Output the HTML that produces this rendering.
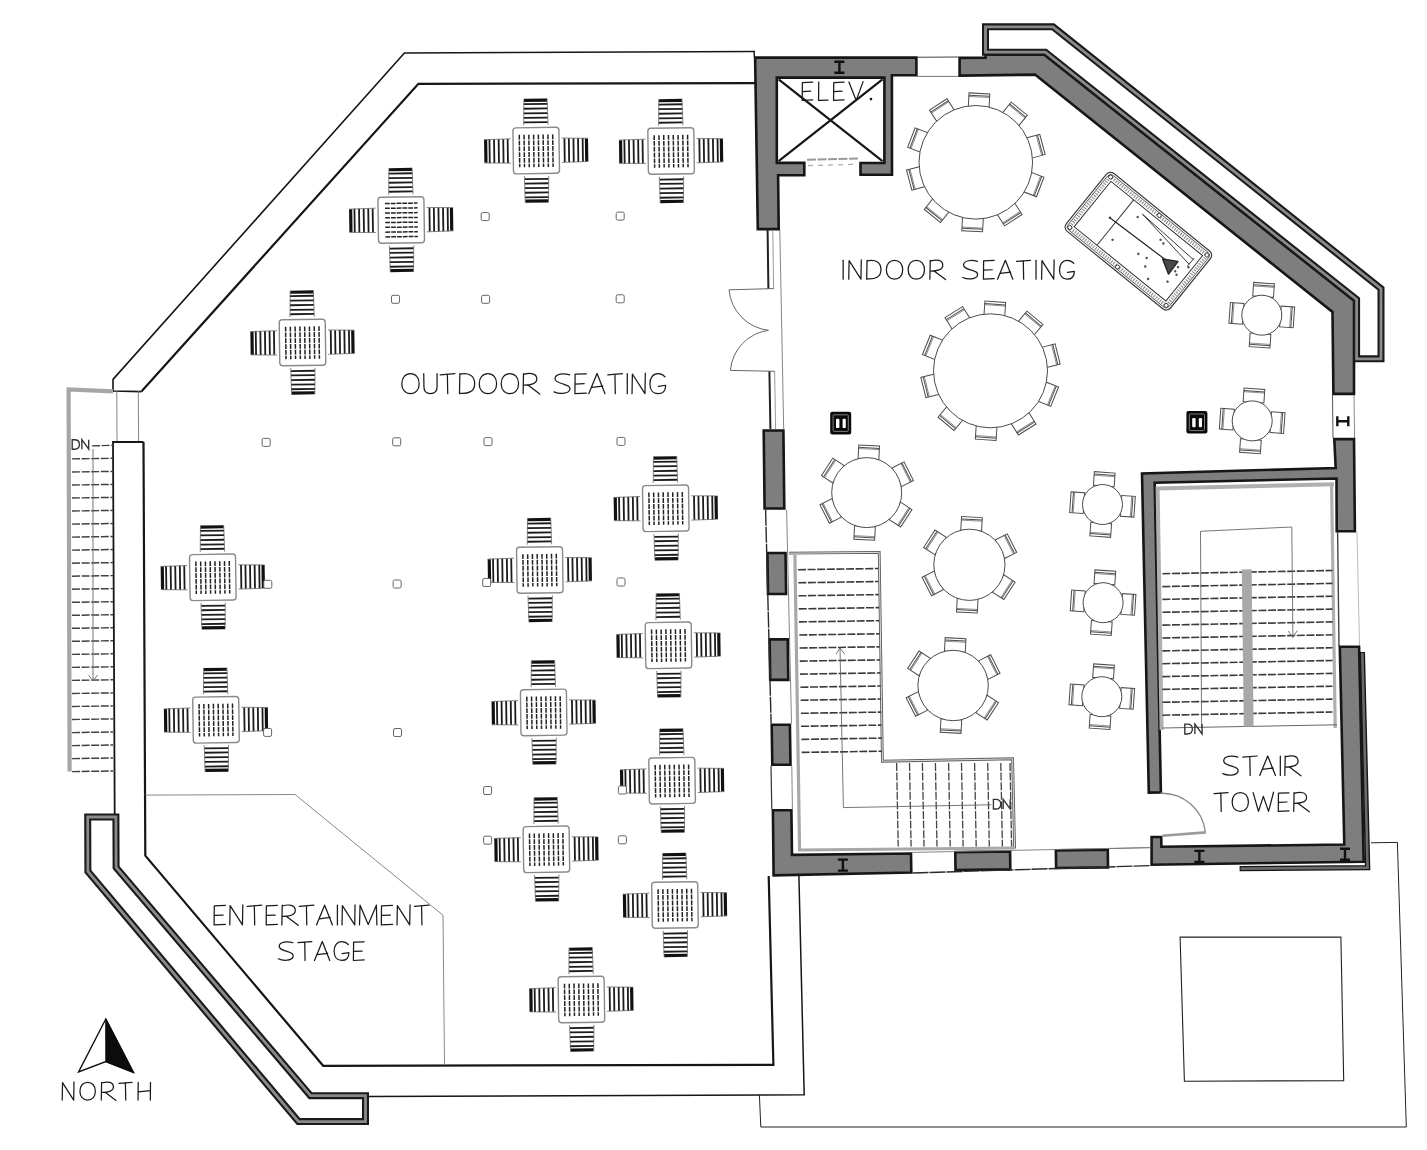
<!DOCTYPE html>
<html><head><meta charset="utf-8"><title>Floor plan</title>
<style>html,body{margin:0;padding:0;background:#fff;}svg{display:block;font-family:"Liberation Sans",sans-serif;}</style></head>
<body><svg width="1427" height="1150" viewBox="0 0 1427 1150">
<rect width="1427" height="1150" fill="#fff"/>
<defs><g id="sc"><rect x="-11.5" y="-52" width="23" height="3.2" fill="#111"/><line x1="-11.9" y1="-46.6" x2="11.9" y2="-46.6" stroke="#1c1c1c" stroke-width="1.8"/><line x1="-11.9" y1="-42.0" x2="11.9" y2="-42.0" stroke="#1c1c1c" stroke-width="1.8"/><line x1="-11.9" y1="-37.4" x2="11.9" y2="-37.4" stroke="#1c1c1c" stroke-width="1.8"/><line x1="-11.9" y1="-32.8" x2="11.9" y2="-32.8" stroke="#1c1c1c" stroke-width="1.8"/><line x1="-11.9" y1="-28.4" x2="11.9" y2="-28.4" stroke="#1c1c1c" stroke-width="1.8"/><path d="M-11.6,-52 L-12.2,-25.5 M11.6,-52 L12.2,-25.5" stroke="#555" stroke-width="0.7" fill="none"/></g><g id="tv"><use href="#sc" transform="rotate(0)"/><use href="#sc" transform="rotate(90)"/><use href="#sc" transform="rotate(180)"/><use href="#sc" transform="rotate(270)"/><rect x="-23" y="-23" width="46" height="46" rx="3" fill="#fff" stroke="#8a8a8a" stroke-width="1.4"/><line x1="-16.70" y1="-16" x2="-16.70" y2="16.5" stroke="#222" stroke-width="1.5" stroke-dasharray="4.8 1.0"/><line x1="-11.93" y1="-16" x2="-11.93" y2="16.5" stroke="#222" stroke-width="1.5" stroke-dasharray="4.8 1.0"/><line x1="-7.16" y1="-16" x2="-7.16" y2="16.5" stroke="#222" stroke-width="1.5" stroke-dasharray="4.8 1.0"/><line x1="-2.39" y1="-16" x2="-2.39" y2="16.5" stroke="#222" stroke-width="1.5" stroke-dasharray="4.8 1.0"/><line x1="2.38" y1="-16" x2="2.38" y2="16.5" stroke="#222" stroke-width="1.5" stroke-dasharray="4.8 1.0"/><line x1="7.15" y1="-16" x2="7.15" y2="16.5" stroke="#222" stroke-width="1.5" stroke-dasharray="4.8 1.0"/><line x1="11.92" y1="-16" x2="11.92" y2="16.5" stroke="#222" stroke-width="1.5" stroke-dasharray="4.8 1.0"/><line x1="16.69" y1="-16" x2="16.69" y2="16.5" stroke="#222" stroke-width="1.5" stroke-dasharray="4.8 1.0"/></g><g id="th"><use href="#sc" transform="rotate(0)"/><use href="#sc" transform="rotate(90)"/><use href="#sc" transform="rotate(180)"/><use href="#sc" transform="rotate(270)"/><rect x="-23" y="-23" width="46" height="46" rx="3" fill="#fff" stroke="#8a8a8a" stroke-width="1.4"/><line y1="-16.70" x1="-16" y2="-16.70" x2="16.5" stroke="#222" stroke-width="1.5" stroke-dasharray="4.8 1.0"/><line y1="-11.93" x1="-16" y2="-11.93" x2="16.5" stroke="#222" stroke-width="1.5" stroke-dasharray="4.8 1.0"/><line y1="-7.16" x1="-16" y2="-7.16" x2="16.5" stroke="#222" stroke-width="1.5" stroke-dasharray="4.8 1.0"/><line y1="-2.39" x1="-16" y2="-2.39" x2="16.5" stroke="#222" stroke-width="1.5" stroke-dasharray="4.8 1.0"/><line y1="2.38" x1="-16" y2="2.38" x2="16.5" stroke="#222" stroke-width="1.5" stroke-dasharray="4.8 1.0"/><line y1="7.15" x1="-16" y2="7.15" x2="16.5" stroke="#222" stroke-width="1.5" stroke-dasharray="4.8 1.0"/><line y1="11.92" x1="-16" y2="11.92" x2="16.5" stroke="#222" stroke-width="1.5" stroke-dasharray="4.8 1.0"/><line y1="16.69" x1="-16" y2="16.69" x2="16.5" stroke="#222" stroke-width="1.5" stroke-dasharray="4.8 1.0"/></g><rect id="post" x="-4" y="-4" width="8" height="8" rx="1.5" fill="#fff" stroke="#666" stroke-width="1"/><path id="ib" d="M-5,-5.5 H5 M-5,5.5 H5 M0,-5.5 V5.5" stroke="#111" stroke-width="2.4" fill="none"/><g id="col"><rect x="-10.5" y="-11.3" width="21" height="22.6" rx="2" fill="#0a0a0a"/><rect x="-7.6" y="-8.3" width="15.2" height="16.6" rx="1" fill="none" stroke="#8a8a8a" stroke-width="0.9"/><rect x="-4.7" y="-4.3" width="3.4" height="9.3" rx="1.2" fill="#fff"/><rect x="1.9" y="-4.3" width="3.2" height="9.3" rx="1.2" fill="#fff"/></g></defs>
<path d="M755.0,51.5 L404.4,53.0 L113.0,379.4 L113.0,391.0 L141.4,391.6" fill="none" stroke="#161616" stroke-width="1.6" stroke-linejoin="miter"/>
<path d="M141.4,391.6 L418.4,83.8 L755.0,83.1" fill="none" stroke="#161616" stroke-width="2.2"/>
<line x1="754.0" y1="51.5" x2="754.5" y2="57.0" stroke="#161616" stroke-width="1.4"/>
<line x1="116.8" y1="391.0" x2="117.0" y2="442.0" stroke="#777" stroke-width="0.9"/>
<line x1="138.3" y1="391.0" x2="138.6" y2="442.0" stroke="#777" stroke-width="0.9"/>
<path d="M114.7,815.0 L113.0,442.0 L143.5,442.0" fill="none" stroke="#161616" stroke-width="1.8"/>
<path d="M143.5,442.0 L145.3,855.6 L323.2,1065.8 L773.4,1064.8 L768.7,876.0" fill="none" stroke="#161616" stroke-width="2.2"/>
<path d="M368.3,1096.5 L804.2,1094.8 L798.9,876.0" fill="none" stroke="#161616" stroke-width="1.5"/>
<path d="M145.3,795.1 L295.0,794.5 L443.0,915.2 L444.5,1065.0" fill="none" stroke="#888" stroke-width="1"/>
<path d="M759.4,1095.0 L760.8,1127.0 L1406.3,1127.0 L1397.4,842.4 L1371.0,842.8" fill="none" stroke="#222" stroke-width="1"/>
<path d="M1180.1,937.1 L1340.9,937.1 L1343.7,1080.6 L1184.4,1081.2 Z" fill="none" stroke="#222" stroke-width="1.1"/>
<path d="M113.0,391.4 L68.6,389.4 L69.6,771.5" fill="none" stroke="#a6a6a6" stroke-width="4.2"/>
<line x1="92.0" y1="445.9" x2="113.0" y2="445.3" stroke="#404040" stroke-width="1.45" stroke-dasharray="8 1.6"/>
<line x1="72.0" y1="458.9" x2="113.0" y2="458.3" stroke="#404040" stroke-width="1.45" stroke-dasharray="8 1.6"/>
<line x1="72.0" y1="472.0" x2="113.0" y2="471.4" stroke="#404040" stroke-width="1.45" stroke-dasharray="8 1.6"/>
<line x1="72.0" y1="485.0" x2="113.0" y2="484.4" stroke="#404040" stroke-width="1.45" stroke-dasharray="8 1.6"/>
<line x1="72.0" y1="498.0" x2="113.0" y2="497.4" stroke="#404040" stroke-width="1.45" stroke-dasharray="8 1.6"/>
<line x1="72.0" y1="511.0" x2="113.0" y2="510.4" stroke="#404040" stroke-width="1.45" stroke-dasharray="8 1.6"/>
<line x1="72.0" y1="524.1" x2="113.0" y2="523.5" stroke="#404040" stroke-width="1.45" stroke-dasharray="8 1.6"/>
<line x1="72.0" y1="537.1" x2="113.0" y2="536.5" stroke="#404040" stroke-width="1.45" stroke-dasharray="8 1.6"/>
<line x1="72.0" y1="550.1" x2="113.0" y2="549.5" stroke="#404040" stroke-width="1.45" stroke-dasharray="8 1.6"/>
<line x1="72.0" y1="563.2" x2="113.0" y2="562.6" stroke="#404040" stroke-width="1.45" stroke-dasharray="8 1.6"/>
<line x1="72.0" y1="576.2" x2="113.0" y2="575.6" stroke="#404040" stroke-width="1.45" stroke-dasharray="8 1.6"/>
<line x1="72.0" y1="589.2" x2="113.0" y2="588.6" stroke="#404040" stroke-width="1.45" stroke-dasharray="8 1.6"/>
<line x1="72.0" y1="602.3" x2="113.0" y2="601.7" stroke="#404040" stroke-width="1.45" stroke-dasharray="8 1.6"/>
<line x1="72.0" y1="615.3" x2="113.0" y2="614.7" stroke="#404040" stroke-width="1.45" stroke-dasharray="8 1.6"/>
<line x1="72.0" y1="628.3" x2="113.0" y2="627.7" stroke="#404040" stroke-width="1.45" stroke-dasharray="8 1.6"/>
<line x1="72.0" y1="641.3" x2="113.0" y2="640.7" stroke="#404040" stroke-width="1.45" stroke-dasharray="8 1.6"/>
<line x1="72.0" y1="654.4" x2="113.0" y2="653.8" stroke="#404040" stroke-width="1.45" stroke-dasharray="8 1.6"/>
<line x1="72.0" y1="667.4" x2="113.0" y2="666.8" stroke="#404040" stroke-width="1.45" stroke-dasharray="8 1.6"/>
<line x1="72.0" y1="680.4" x2="113.0" y2="679.8" stroke="#404040" stroke-width="1.45" stroke-dasharray="8 1.6"/>
<line x1="72.0" y1="693.5" x2="113.0" y2="692.9" stroke="#404040" stroke-width="1.45" stroke-dasharray="8 1.6"/>
<line x1="72.0" y1="706.5" x2="113.0" y2="705.9" stroke="#404040" stroke-width="1.45" stroke-dasharray="8 1.6"/>
<line x1="72.0" y1="719.5" x2="113.0" y2="718.9" stroke="#404040" stroke-width="1.45" stroke-dasharray="8 1.6"/>
<line x1="72.0" y1="732.6" x2="113.0" y2="732.0" stroke="#404040" stroke-width="1.45" stroke-dasharray="8 1.6"/>
<line x1="72.0" y1="745.6" x2="113.0" y2="745.0" stroke="#404040" stroke-width="1.45" stroke-dasharray="8 1.6"/>
<line x1="72.0" y1="758.6" x2="113.0" y2="758.0" stroke="#404040" stroke-width="1.45" stroke-dasharray="8 1.6"/>
<line x1="72.0" y1="771.6" x2="113.0" y2="771.0" stroke="#404040" stroke-width="1.45" stroke-dasharray="8 1.6"/>
<line x1="93.0" y1="449.0" x2="93.0" y2="680.0" stroke="#666" stroke-width="0.9"/>
<path d="M88.5,675.0 L93.0,681.0 L97.5,675.0" fill="none" stroke="#666" stroke-width="0.9"/>
<path d="M87.7,817.0 L115.9,817.0 L116.1,867.5 L310.5,1095.7 L365.5,1095.7 L365.5,1121.6 L298.5,1121.6 L87.9,871.5 Z" fill="none" stroke="#1a1a1a" stroke-width="7.0" stroke-linejoin="miter"/>
<path d="M87.7,817.0 L115.9,817.0 L116.1,867.5 L310.5,1095.7 L365.5,1095.7 L365.5,1121.6 L298.5,1121.6 L87.9,871.5 Z" fill="none" stroke="#8a8a8a" stroke-width="2.8" stroke-linejoin="miter"/>
<path d="M755.1,57.6 L916.4,57.6 L916.4,75.3 L891.9,75.3 L892.0,174.8 L860.5,174.8 L860.5,163.0 L884.4,163.0 L884.4,77.6 L776.8,77.6 L776.8,162.9 L804.3,162.9 L804.3,175.2 L778.1,175.2 L778.7,229.1 L757.8,229.1 Z" fill="#7e7e7e" stroke="#161616" stroke-width="2.6" stroke-linejoin="miter"/>
<line x1="917.0" y1="57.3" x2="958.4" y2="57.0" stroke="#444" stroke-width="1.1"/>
<line x1="917.0" y1="76.4" x2="958.4" y2="76.4" stroke="#777" stroke-width="1"/>
<path d="M959.6,57.9 L985.5,57.8 L985.5,54.8 L1044.4,54.8 L1354.0,300.8 L1354.0,393.9 L1333.4,393.9 L1332.5,312.0 L1035.0,74.6 L959.6,75.6 Z" fill="#7e7e7e" stroke="#161616" stroke-width="2.6" stroke-linejoin="miter"/>
<path d="M985.5,52.2 L985.5,26.8 L1053.0,26.8 L1381.0,288.6 L1381.0,358.8 L1356.6,358.8 L1356.6,299.5 L1045.3,52.2 Z" fill="none" stroke="#1a1a1a" stroke-width="7.0" stroke-linejoin="miter"/>
<path d="M985.5,52.2 L985.5,26.8 L1053.0,26.8 L1381.0,288.6 L1381.0,358.8 L1356.6,358.8 L1356.6,299.5 L1045.3,52.2 Z" fill="none" stroke="#8a8a8a" stroke-width="2.8" stroke-linejoin="miter"/>
<line x1="1332.5" y1="395.0" x2="1333.0" y2="438.0" stroke="#555" stroke-width="1"/>
<line x1="1354.0" y1="395.0" x2="1354.6" y2="438.0" stroke="#888" stroke-width="1"/>
<use href="#ib" transform="translate(1342.8,421.3) rotate(90)"/>
<path d="M1334.3,439.1 L1354.0,439.1 L1354.9,531.2 L1336.7,531.2 L1336.5,478.5 L1154.7,482.8 L1160.9,792.4 L1148.8,792.6 L1142.0,473.4 L1335.7,468.0 Z" fill="#7e7e7e" stroke="#161616" stroke-width="2.6" stroke-linejoin="miter"/>
<line x1="1337.6" y1="532.0" x2="1339.0" y2="646.0" stroke="#444" stroke-width="1.4"/>
<line x1="1357.0" y1="532.0" x2="1359.5" y2="646.0" stroke="#bbb" stroke-width="1"/>
<path d="M1362.3,652.0 L1367.6,867.6 L1239.6,868.6" fill="none" stroke="#161616" stroke-width="5.4" stroke-linejoin="miter"/>
<path d="M1362.3,653.0 L1367.6,867.6 L1240.6,868.6" fill="none" stroke="#6a6a6a" stroke-width="2.6" stroke-linejoin="miter"/>
<path d="M1339.8,646.8 L1359.1,646.8 L1363.7,861.7 L1151.6,864.8 L1151.6,837.0 L1161.2,837.0 L1161.4,846.8 L1344.3,844.5 Z" fill="#7e7e7e" stroke="#161616" stroke-width="2.6" stroke-linejoin="miter"/>
<use href="#ib" transform="translate(1199.4,856.4)"/>
<use href="#ib" transform="translate(1345,854.2)"/>
<use href="#ib" transform="translate(839.4,67.3)"/>
<path d="M763.7,430.5 L783.4,430.5 L784.3,508.5 L764.6,508.5 Z" fill="#7e7e7e" stroke="#161616" stroke-width="2.6" stroke-linejoin="miter"/>
<path d="M767.4,553.0 L785.5,553.0 L786.1,594.0 L768.0,594.0 Z" fill="#7e7e7e" stroke="#161616" stroke-width="2.6" stroke-linejoin="miter"/>
<path d="M769.6,639.4 L787.7,639.4 L788.3,679.9 L770.2,679.9 Z" fill="#7e7e7e" stroke="#161616" stroke-width="2.6" stroke-linejoin="miter"/>
<path d="M771.7,724.7 L789.9,724.7 L790.5,764.7 L772.3,764.7 Z" fill="#7e7e7e" stroke="#161616" stroke-width="2.6" stroke-linejoin="miter"/>
<path d="M772.9,810.3 L791.4,810.3 L792.0,854.9 L911.0,853.5 L911.3,872.5 L773.6,875.3 Z" fill="#7e7e7e" stroke="#161616" stroke-width="2.6" stroke-linejoin="miter"/>
<use href="#ib" transform="translate(842.9,865.1)"/>
<path d="M955.3,852.1 L1010.1,851.5 L1010.3,869.4 L955.5,870.0 Z" fill="#7e7e7e" stroke="#161616" stroke-width="2.6" stroke-linejoin="miter"/>
<path d="M1055.9,850.4 L1107.8,849.8 L1108.0,867.4 L1056.1,868.0 Z" fill="#7e7e7e" stroke="#161616" stroke-width="2.6" stroke-linejoin="miter"/>
<path d="M765.6,509.8 L771.1,723.5" fill="none" stroke="#2a2a2a" stroke-width="1.4" stroke-dasharray="16 1"/>
<path d="M786.6,509.8 L791.5,723.5" fill="none" stroke="#777" stroke-width="0.9"/>
<path d="M771.0,765.9 L771.8,809.1" fill="none" stroke="#333" stroke-width="1.2"/>
<path d="M791.8,765.9 L792.4,809.1" fill="none" stroke="#777" stroke-width="0.9"/>
<path d="M912.6,873.0 L1150.4,865.6" fill="none" stroke="#2a2a2a" stroke-width="1.4" stroke-dasharray="16 1"/>
<path d="M912.2,852.4 L1150.4,847.6" fill="none" stroke="#777" stroke-width="0.9"/>
<line x1="767.6" y1="230.0" x2="768.4" y2="289.0" stroke="#222" stroke-width="2"/>
<line x1="772.8" y1="230.0" x2="773.6" y2="289.0" stroke="#999" stroke-width="1"/>
<path d="M779.8,230.0 L783.7,429.0" fill="none" stroke="#777" stroke-width="0.9"/>
<line x1="769.4" y1="371.0" x2="770.4" y2="429.0" stroke="#222" stroke-width="2"/>
<line x1="774.6" y1="371.0" x2="775.6" y2="429.0" stroke="#999" stroke-width="1"/>
<path d="M773.5,288.6 L729,289.8 A44.5,44.5 0 0 0 768.5,330.3 A44,44 0 0 0 730.4,370.4 L774.6,371.3" fill="none" stroke="#666" stroke-width="1"/>
<line x1="778.6" y1="79.4" x2="882.5" y2="161.1" stroke="#161616" stroke-width="2.2"/>
<line x1="882.5" y1="79.4" x2="778.6" y2="161.1" stroke="#161616" stroke-width="2.2"/>
<line x1="807.0" y1="159.8" x2="858.5" y2="158.4" stroke="#9a9a9a" stroke-width="2" stroke-dasharray="9 1.5"/>
<line x1="808.0" y1="165.6" x2="858.0" y2="164.2" stroke="#aaa" stroke-width="1.2" stroke-dasharray="5 5"/>
<path d="M788.9,553.2 L879.2,552.4 L882.4,761.2 L1012.6,758.8 L1014.6,848.5" fill="none" stroke="#5c5c5c" stroke-width="2.8"/>
<path d="M788.9,553.2 L879.2,552.4 L882.4,761.2 L1012.6,758.8 L1014.6,848.5" fill="none" stroke="#fff" stroke-width="0.8"/>
<path d="M794.9,555.0 L799.6,850.0 L1014.6,848.0" fill="none" stroke="#a8a8a8" stroke-width="3.2"/>
<line x1="798.0" y1="569.7" x2="878.3" y2="568.5" stroke="#3a3a3a" stroke-width="1.6" stroke-dasharray="8 1.6"/>
<line x1="798.3" y1="582.8" x2="878.6" y2="581.5" stroke="#3a3a3a" stroke-width="1.6" stroke-dasharray="8 1.6"/>
<line x1="798.5" y1="595.8" x2="878.8" y2="594.6" stroke="#3a3a3a" stroke-width="1.6" stroke-dasharray="8 1.6"/>
<line x1="798.8" y1="608.9" x2="879.1" y2="607.6" stroke="#3a3a3a" stroke-width="1.6" stroke-dasharray="8 1.6"/>
<line x1="799.0" y1="621.9" x2="879.3" y2="620.7" stroke="#3a3a3a" stroke-width="1.6" stroke-dasharray="8 1.6"/>
<line x1="799.3" y1="635.0" x2="879.6" y2="633.8" stroke="#3a3a3a" stroke-width="1.6" stroke-dasharray="8 1.6"/>
<line x1="799.6" y1="648.0" x2="879.9" y2="646.8" stroke="#3a3a3a" stroke-width="1.6" stroke-dasharray="8 1.6"/>
<line x1="799.8" y1="661.1" x2="880.1" y2="659.9" stroke="#3a3a3a" stroke-width="1.6" stroke-dasharray="8 1.6"/>
<line x1="800.1" y1="674.1" x2="880.4" y2="672.9" stroke="#3a3a3a" stroke-width="1.6" stroke-dasharray="8 1.6"/>
<line x1="800.4" y1="687.2" x2="880.7" y2="686.0" stroke="#3a3a3a" stroke-width="1.6" stroke-dasharray="8 1.6"/>
<line x1="800.6" y1="700.2" x2="880.9" y2="699.0" stroke="#3a3a3a" stroke-width="1.6" stroke-dasharray="8 1.6"/>
<line x1="800.9" y1="713.3" x2="881.2" y2="712.1" stroke="#3a3a3a" stroke-width="1.6" stroke-dasharray="8 1.6"/>
<line x1="801.1" y1="726.3" x2="881.4" y2="725.1" stroke="#3a3a3a" stroke-width="1.6" stroke-dasharray="8 1.6"/>
<line x1="801.4" y1="739.4" x2="881.7" y2="738.1" stroke="#3a3a3a" stroke-width="1.6" stroke-dasharray="8 1.6"/>
<line x1="801.7" y1="752.4" x2="882.0" y2="751.2" stroke="#3a3a3a" stroke-width="1.6" stroke-dasharray="8 1.6"/>
<line x1="896.6" y1="763.0" x2="898.2" y2="846.4" stroke="#444" stroke-width="1.3" stroke-dasharray="8 1.6"/>
<line x1="909.5" y1="763.0" x2="911.1" y2="846.4" stroke="#444" stroke-width="1.3" stroke-dasharray="8 1.6"/>
<line x1="922.4" y1="763.0" x2="924.0" y2="846.4" stroke="#444" stroke-width="1.3" stroke-dasharray="8 1.6"/>
<line x1="935.4" y1="763.0" x2="937.0" y2="846.4" stroke="#444" stroke-width="1.3" stroke-dasharray="8 1.6"/>
<line x1="948.6" y1="763.0" x2="950.2" y2="846.4" stroke="#444" stroke-width="1.3" stroke-dasharray="8 1.6"/>
<line x1="961.5" y1="763.0" x2="963.1" y2="846.4" stroke="#444" stroke-width="1.3" stroke-dasharray="8 1.6"/>
<line x1="974.6" y1="763.0" x2="976.2" y2="846.4" stroke="#444" stroke-width="1.3" stroke-dasharray="8 1.6"/>
<line x1="987.7" y1="763.0" x2="989.3" y2="846.4" stroke="#444" stroke-width="1.3" stroke-dasharray="8 1.6"/>
<line x1="1000.8" y1="763.0" x2="1002.4" y2="846.4" stroke="#444" stroke-width="1.3" stroke-dasharray="8 1.6"/>
<line x1="1010.0" y1="763.0" x2="1011.6" y2="846.4" stroke="#444" stroke-width="1.3" stroke-dasharray="8 1.6"/>
<path d="M840.0,648.5 L843.4,807.6 L991.4,804.8" fill="none" stroke="#666" stroke-width="0.9"/>
<path d="M836.0,654.0 L840.0,648.0 L844.5,654.0" fill="none" stroke="#666" stroke-width="0.9"/>
<path d="M1161.6,730.0 L1157.6,488.4 L1334.0,484.2" fill="none" stroke="#b0b0b0" stroke-width="4"/>
<line x1="1331.6" y1="486.0" x2="1335.2" y2="728.0" stroke="#b0b0b0" stroke-width="3.2"/>
<line x1="1162.4" y1="573.7" x2="1332.5" y2="570.5" stroke="#3a3a3a" stroke-width="1.6" stroke-dasharray="8 1.6"/>
<line x1="1162.4" y1="586.6" x2="1332.5" y2="583.4" stroke="#3a3a3a" stroke-width="1.6" stroke-dasharray="8 1.6"/>
<line x1="1162.4" y1="599.4" x2="1332.5" y2="596.2" stroke="#3a3a3a" stroke-width="1.6" stroke-dasharray="8 1.6"/>
<line x1="1162.4" y1="612.3" x2="1332.5" y2="609.1" stroke="#3a3a3a" stroke-width="1.6" stroke-dasharray="8 1.6"/>
<line x1="1162.4" y1="625.1" x2="1332.5" y2="621.9" stroke="#3a3a3a" stroke-width="1.6" stroke-dasharray="8 1.6"/>
<line x1="1162.4" y1="638.0" x2="1332.5" y2="634.8" stroke="#3a3a3a" stroke-width="1.6" stroke-dasharray="8 1.6"/>
<line x1="1162.4" y1="650.9" x2="1332.5" y2="647.7" stroke="#3a3a3a" stroke-width="1.6" stroke-dasharray="8 1.6"/>
<line x1="1162.4" y1="663.7" x2="1332.5" y2="660.5" stroke="#3a3a3a" stroke-width="1.6" stroke-dasharray="8 1.6"/>
<line x1="1162.4" y1="676.6" x2="1332.5" y2="673.4" stroke="#3a3a3a" stroke-width="1.6" stroke-dasharray="8 1.6"/>
<line x1="1162.4" y1="689.4" x2="1332.5" y2="686.2" stroke="#3a3a3a" stroke-width="1.6" stroke-dasharray="8 1.6"/>
<line x1="1162.4" y1="702.3" x2="1332.5" y2="699.1" stroke="#3a3a3a" stroke-width="1.6" stroke-dasharray="8 1.6"/>
<line x1="1162.4" y1="715.2" x2="1332.5" y2="712.0" stroke="#3a3a3a" stroke-width="1.6" stroke-dasharray="8 1.6"/>
<line x1="1162.4" y1="728.0" x2="1337.0" y2="724.8" stroke="#555" stroke-width="0.9"/>
<path d="M1241.8,569.4 L1251.6,569.2 L1253.6,726.6 L1243.8,726.8 Z" fill="#a8a8a8" stroke="none"/>
<path d="M1201.6,728.0 L1200.5,531.3 L1291.8,527.0 L1292.9,636.8" fill="none" stroke="#666" stroke-width="0.9"/>
<path d="M1288.3,631.0 L1292.9,637.5 L1297.3,630.6" fill="none" stroke="#666" stroke-width="0.9"/>
<path d="M1162.4,835.7 L1205.9,832.4" stroke="#9a9a9a" stroke-width="2.6" fill="none"/>
<path d="M1160.5,793.3 A43.5,43.5 0 0 1 1205.3,831.5" stroke="#8a8a8a" stroke-width="1.4" fill="none"/>
<line x1="1109.3" y1="848.6" x2="1150.4" y2="847.6" stroke="#777" stroke-width="0.9"/>
<use href="#tv" transform="translate(536.2,150.6) rotate(-0.8)"/>
<use href="#tv" transform="translate(671.1,151) rotate(-0.8)"/>
<use href="#th" transform="translate(401.2,220) rotate(-0.8)"/>
<use href="#tv" transform="translate(302.5,342.5) rotate(-0.8)"/>
<use href="#tv" transform="translate(665.8,508.3) rotate(-0.8)"/>
<use href="#tv" transform="translate(539.8,570) rotate(-0.8)"/>
<use href="#tv" transform="translate(212.8,577.3) rotate(-0.8)"/>
<use href="#tv" transform="translate(668.5,645.3) rotate(-0.8)"/>
<use href="#tv" transform="translate(543.7,712.4) rotate(-0.8)"/>
<use href="#tv" transform="translate(216,719.8) rotate(-0.8)"/>
<use href="#tv" transform="translate(672.1,780.7) rotate(-0.8)"/>
<use href="#tv" transform="translate(546.4,849.3) rotate(-0.8)"/>
<use href="#tv" transform="translate(675,905) rotate(-0.8)"/>
<use href="#tv" transform="translate(581.4,999.5) rotate(-0.8)"/>
<use href="#post" transform="translate(485.2,216.6)"/>
<use href="#post" transform="translate(620.2,216.1)"/>
<use href="#post" transform="translate(395.5,299.3)"/>
<use href="#post" transform="translate(485.6,299.3)"/>
<use href="#post" transform="translate(620.2,298.8)"/>
<use href="#post" transform="translate(266.2,442.4)"/>
<use href="#post" transform="translate(396.7,441.8)"/>
<use href="#post" transform="translate(488,441.6)"/>
<use href="#post" transform="translate(621,441.4)"/>
<use href="#post" transform="translate(267.8,584.3)"/>
<use href="#post" transform="translate(397.1,584)"/>
<use href="#post" transform="translate(486.7,582.5)"/>
<use href="#post" transform="translate(621,582)"/>
<use href="#post" transform="translate(267.6,732.4)"/>
<use href="#post" transform="translate(397.5,732.5)"/>
<use href="#post" transform="translate(487.6,790.5)"/>
<use href="#post" transform="translate(622.4,790)"/>
<use href="#post" transform="translate(487.6,840.2)"/>
<use href="#post" transform="translate(622.4,839.8)"/>
<g transform="translate(975.8,162.3)" fill="#fff" stroke="#4c4c4c" stroke-width="1"><g transform="rotate(3.0)"><rect x="-10.4" y="-69.0" width="20.8" height="13.6" /><line x1="-10.4" y1="-66.6" x2="10.4" y2="-66.6"/><line x1="-10.4" y1="-65.4" x2="10.4" y2="-65.4" stroke-width="0.6"/></g><g transform="rotate(39.0)"><rect x="-10.4" y="-69.0" width="20.8" height="13.6" /><line x1="-10.4" y1="-66.6" x2="10.4" y2="-66.6"/><line x1="-10.4" y1="-65.4" x2="10.4" y2="-65.4" stroke-width="0.6"/></g><g transform="rotate(75.0)"><rect x="-10.4" y="-69.0" width="20.8" height="13.6" /><line x1="-10.4" y1="-66.6" x2="10.4" y2="-66.6"/><line x1="-10.4" y1="-65.4" x2="10.4" y2="-65.4" stroke-width="0.6"/></g><g transform="rotate(111.0)"><rect x="-10.4" y="-69.0" width="20.8" height="13.6" /><line x1="-10.4" y1="-66.6" x2="10.4" y2="-66.6"/><line x1="-10.4" y1="-65.4" x2="10.4" y2="-65.4" stroke-width="0.6"/></g><g transform="rotate(147.0)"><rect x="-10.4" y="-69.0" width="20.8" height="13.6" /><line x1="-10.4" y1="-66.6" x2="10.4" y2="-66.6"/><line x1="-10.4" y1="-65.4" x2="10.4" y2="-65.4" stroke-width="0.6"/></g><g transform="rotate(183.0)"><rect x="-10.4" y="-69.0" width="20.8" height="13.6" /><line x1="-10.4" y1="-66.6" x2="10.4" y2="-66.6"/><line x1="-10.4" y1="-65.4" x2="10.4" y2="-65.4" stroke-width="0.6"/></g><g transform="rotate(219.0)"><rect x="-10.4" y="-69.0" width="20.8" height="13.6" /><line x1="-10.4" y1="-66.6" x2="10.4" y2="-66.6"/><line x1="-10.4" y1="-65.4" x2="10.4" y2="-65.4" stroke-width="0.6"/></g><g transform="rotate(255.0)"><rect x="-10.4" y="-69.0" width="20.8" height="13.6" /><line x1="-10.4" y1="-66.6" x2="10.4" y2="-66.6"/><line x1="-10.4" y1="-65.4" x2="10.4" y2="-65.4" stroke-width="0.6"/></g><g transform="rotate(291.0)"><rect x="-10.4" y="-69.0" width="20.8" height="13.6" /><line x1="-10.4" y1="-66.6" x2="10.4" y2="-66.6"/><line x1="-10.4" y1="-65.4" x2="10.4" y2="-65.4" stroke-width="0.6"/></g><g transform="rotate(327.0)"><rect x="-10.4" y="-69.0" width="20.8" height="13.6" /><line x1="-10.4" y1="-66.6" x2="10.4" y2="-66.6"/><line x1="-10.4" y1="-65.4" x2="10.4" y2="-65.4" stroke-width="0.6"/></g><circle r="56.8" stroke="#4a4a4a" stroke-width="1"/></g>
<g transform="translate(990.5,370.8)" fill="#fff" stroke="#4c4c4c" stroke-width="1"><g transform="rotate(4.0)"><rect x="-10.4" y="-69.2" width="20.8" height="13.6" /><line x1="-10.4" y1="-66.8" x2="10.4" y2="-66.8"/><line x1="-10.4" y1="-65.6" x2="10.4" y2="-65.6" stroke-width="0.6"/></g><g transform="rotate(40.0)"><rect x="-10.4" y="-69.2" width="20.8" height="13.6" /><line x1="-10.4" y1="-66.8" x2="10.4" y2="-66.8"/><line x1="-10.4" y1="-65.6" x2="10.4" y2="-65.6" stroke-width="0.6"/></g><g transform="rotate(76.0)"><rect x="-10.4" y="-69.2" width="20.8" height="13.6" /><line x1="-10.4" y1="-66.8" x2="10.4" y2="-66.8"/><line x1="-10.4" y1="-65.6" x2="10.4" y2="-65.6" stroke-width="0.6"/></g><g transform="rotate(112.0)"><rect x="-10.4" y="-69.2" width="20.8" height="13.6" /><line x1="-10.4" y1="-66.8" x2="10.4" y2="-66.8"/><line x1="-10.4" y1="-65.6" x2="10.4" y2="-65.6" stroke-width="0.6"/></g><g transform="rotate(148.0)"><rect x="-10.4" y="-69.2" width="20.8" height="13.6" /><line x1="-10.4" y1="-66.8" x2="10.4" y2="-66.8"/><line x1="-10.4" y1="-65.6" x2="10.4" y2="-65.6" stroke-width="0.6"/></g><g transform="rotate(184.0)"><rect x="-10.4" y="-69.2" width="20.8" height="13.6" /><line x1="-10.4" y1="-66.8" x2="10.4" y2="-66.8"/><line x1="-10.4" y1="-65.6" x2="10.4" y2="-65.6" stroke-width="0.6"/></g><g transform="rotate(220.0)"><rect x="-10.4" y="-69.2" width="20.8" height="13.6" /><line x1="-10.4" y1="-66.8" x2="10.4" y2="-66.8"/><line x1="-10.4" y1="-65.6" x2="10.4" y2="-65.6" stroke-width="0.6"/></g><g transform="rotate(256.0)"><rect x="-10.4" y="-69.2" width="20.8" height="13.6" /><line x1="-10.4" y1="-66.8" x2="10.4" y2="-66.8"/><line x1="-10.4" y1="-65.6" x2="10.4" y2="-65.6" stroke-width="0.6"/></g><g transform="rotate(292.0)"><rect x="-10.4" y="-69.2" width="20.8" height="13.6" /><line x1="-10.4" y1="-66.8" x2="10.4" y2="-66.8"/><line x1="-10.4" y1="-65.6" x2="10.4" y2="-65.6" stroke-width="0.6"/></g><g transform="rotate(328.0)"><rect x="-10.4" y="-69.2" width="20.8" height="13.6" /><line x1="-10.4" y1="-66.8" x2="10.4" y2="-66.8"/><line x1="-10.4" y1="-65.6" x2="10.4" y2="-65.6" stroke-width="0.6"/></g><circle r="57" stroke="#4a4a4a" stroke-width="1"/></g>
<g transform="translate(866.7,492.6)" fill="#fff" stroke="#4c4c4c" stroke-width="1"><g transform="rotate(3.0)"><rect x="-10.4" y="-47.2" width="20.8" height="13.6" /><line x1="-10.4" y1="-44.8" x2="10.4" y2="-44.8"/><line x1="-10.4" y1="-43.6" x2="10.4" y2="-43.6" stroke-width="0.6"/></g><g transform="rotate(63.0)"><rect x="-10.4" y="-47.2" width="20.8" height="13.6" /><line x1="-10.4" y1="-44.8" x2="10.4" y2="-44.8"/><line x1="-10.4" y1="-43.6" x2="10.4" y2="-43.6" stroke-width="0.6"/></g><g transform="rotate(123.0)"><rect x="-10.4" y="-47.2" width="20.8" height="13.6" /><line x1="-10.4" y1="-44.8" x2="10.4" y2="-44.8"/><line x1="-10.4" y1="-43.6" x2="10.4" y2="-43.6" stroke-width="0.6"/></g><g transform="rotate(183.0)"><rect x="-10.4" y="-47.2" width="20.8" height="13.6" /><line x1="-10.4" y1="-44.8" x2="10.4" y2="-44.8"/><line x1="-10.4" y1="-43.6" x2="10.4" y2="-43.6" stroke-width="0.6"/></g><g transform="rotate(243.0)"><rect x="-10.4" y="-47.2" width="20.8" height="13.6" /><line x1="-10.4" y1="-44.8" x2="10.4" y2="-44.8"/><line x1="-10.4" y1="-43.6" x2="10.4" y2="-43.6" stroke-width="0.6"/></g><g transform="rotate(303.0)"><rect x="-10.4" y="-47.2" width="20.8" height="13.6" /><line x1="-10.4" y1="-44.8" x2="10.4" y2="-44.8"/><line x1="-10.4" y1="-43.6" x2="10.4" y2="-43.6" stroke-width="0.6"/></g><circle r="35" stroke="#4a4a4a" stroke-width="1"/></g>
<g transform="translate(969.4,564.8)" fill="#fff" stroke="#4c4c4c" stroke-width="1"><g transform="rotate(3.0)"><rect x="-10.4" y="-47.8" width="20.8" height="13.6" /><line x1="-10.4" y1="-45.4" x2="10.4" y2="-45.4"/><line x1="-10.4" y1="-44.2" x2="10.4" y2="-44.2" stroke-width="0.6"/></g><g transform="rotate(63.0)"><rect x="-10.4" y="-47.8" width="20.8" height="13.6" /><line x1="-10.4" y1="-45.4" x2="10.4" y2="-45.4"/><line x1="-10.4" y1="-44.2" x2="10.4" y2="-44.2" stroke-width="0.6"/></g><g transform="rotate(123.0)"><rect x="-10.4" y="-47.8" width="20.8" height="13.6" /><line x1="-10.4" y1="-45.4" x2="10.4" y2="-45.4"/><line x1="-10.4" y1="-44.2" x2="10.4" y2="-44.2" stroke-width="0.6"/></g><g transform="rotate(183.0)"><rect x="-10.4" y="-47.8" width="20.8" height="13.6" /><line x1="-10.4" y1="-45.4" x2="10.4" y2="-45.4"/><line x1="-10.4" y1="-44.2" x2="10.4" y2="-44.2" stroke-width="0.6"/></g><g transform="rotate(243.0)"><rect x="-10.4" y="-47.8" width="20.8" height="13.6" /><line x1="-10.4" y1="-45.4" x2="10.4" y2="-45.4"/><line x1="-10.4" y1="-44.2" x2="10.4" y2="-44.2" stroke-width="0.6"/></g><g transform="rotate(303.0)"><rect x="-10.4" y="-47.8" width="20.8" height="13.6" /><line x1="-10.4" y1="-45.4" x2="10.4" y2="-45.4"/><line x1="-10.4" y1="-44.2" x2="10.4" y2="-44.2" stroke-width="0.6"/></g><circle r="35.6" stroke="#4a4a4a" stroke-width="1"/></g>
<g transform="translate(953.1,685.5)" fill="#fff" stroke="#4c4c4c" stroke-width="1"><g transform="rotate(3.0)"><rect x="-10.4" y="-47.4" width="20.8" height="13.6" /><line x1="-10.4" y1="-45.0" x2="10.4" y2="-45.0"/><line x1="-10.4" y1="-43.8" x2="10.4" y2="-43.8" stroke-width="0.6"/></g><g transform="rotate(63.0)"><rect x="-10.4" y="-47.4" width="20.8" height="13.6" /><line x1="-10.4" y1="-45.0" x2="10.4" y2="-45.0"/><line x1="-10.4" y1="-43.8" x2="10.4" y2="-43.8" stroke-width="0.6"/></g><g transform="rotate(123.0)"><rect x="-10.4" y="-47.4" width="20.8" height="13.6" /><line x1="-10.4" y1="-45.0" x2="10.4" y2="-45.0"/><line x1="-10.4" y1="-43.8" x2="10.4" y2="-43.8" stroke-width="0.6"/></g><g transform="rotate(183.0)"><rect x="-10.4" y="-47.4" width="20.8" height="13.6" /><line x1="-10.4" y1="-45.0" x2="10.4" y2="-45.0"/><line x1="-10.4" y1="-43.8" x2="10.4" y2="-43.8" stroke-width="0.6"/></g><g transform="rotate(243.0)"><rect x="-10.4" y="-47.4" width="20.8" height="13.6" /><line x1="-10.4" y1="-45.0" x2="10.4" y2="-45.0"/><line x1="-10.4" y1="-43.8" x2="10.4" y2="-43.8" stroke-width="0.6"/></g><g transform="rotate(303.0)"><rect x="-10.4" y="-47.4" width="20.8" height="13.6" /><line x1="-10.4" y1="-45.0" x2="10.4" y2="-45.0"/><line x1="-10.4" y1="-43.8" x2="10.4" y2="-43.8" stroke-width="0.6"/></g><circle r="35.2" stroke="#4a4a4a" stroke-width="1"/></g>
<g transform="translate(1261.8,315.2)" fill="#fff" stroke="#4c4c4c" stroke-width="1"><g transform="rotate(4.0)"><rect x="-10.4" y="-32.2" width="20.8" height="13.6" /><line x1="-10.4" y1="-29.8" x2="10.4" y2="-29.8"/><line x1="-10.4" y1="-28.6" x2="10.4" y2="-28.6" stroke-width="0.6"/></g><g transform="rotate(94.0)"><rect x="-10.4" y="-32.2" width="20.8" height="13.6" /><line x1="-10.4" y1="-29.8" x2="10.4" y2="-29.8"/><line x1="-10.4" y1="-28.6" x2="10.4" y2="-28.6" stroke-width="0.6"/></g><g transform="rotate(184.0)"><rect x="-10.4" y="-32.2" width="20.8" height="13.6" /><line x1="-10.4" y1="-29.8" x2="10.4" y2="-29.8"/><line x1="-10.4" y1="-28.6" x2="10.4" y2="-28.6" stroke-width="0.6"/></g><g transform="rotate(274.0)"><rect x="-10.4" y="-32.2" width="20.8" height="13.6" /><line x1="-10.4" y1="-29.8" x2="10.4" y2="-29.8"/><line x1="-10.4" y1="-28.6" x2="10.4" y2="-28.6" stroke-width="0.6"/></g><circle r="20" stroke="#4a4a4a" stroke-width="1"/></g>
<g transform="translate(1252.2,420.9)" fill="#fff" stroke="#4c4c4c" stroke-width="1"><g transform="rotate(4.0)"><rect x="-10.4" y="-32.2" width="20.8" height="13.6" /><line x1="-10.4" y1="-29.8" x2="10.4" y2="-29.8"/><line x1="-10.4" y1="-28.6" x2="10.4" y2="-28.6" stroke-width="0.6"/></g><g transform="rotate(94.0)"><rect x="-10.4" y="-32.2" width="20.8" height="13.6" /><line x1="-10.4" y1="-29.8" x2="10.4" y2="-29.8"/><line x1="-10.4" y1="-28.6" x2="10.4" y2="-28.6" stroke-width="0.6"/></g><g transform="rotate(184.0)"><rect x="-10.4" y="-32.2" width="20.8" height="13.6" /><line x1="-10.4" y1="-29.8" x2="10.4" y2="-29.8"/><line x1="-10.4" y1="-28.6" x2="10.4" y2="-28.6" stroke-width="0.6"/></g><g transform="rotate(274.0)"><rect x="-10.4" y="-32.2" width="20.8" height="13.6" /><line x1="-10.4" y1="-29.8" x2="10.4" y2="-29.8"/><line x1="-10.4" y1="-28.6" x2="10.4" y2="-28.6" stroke-width="0.6"/></g><circle r="20" stroke="#4a4a4a" stroke-width="1"/></g>
<g transform="translate(1102.5,504.5)" fill="#fff" stroke="#4c4c4c" stroke-width="1"><g transform="rotate(4.0)"><rect x="-10.4" y="-32.2" width="20.8" height="13.6" /><line x1="-10.4" y1="-29.8" x2="10.4" y2="-29.8"/><line x1="-10.4" y1="-28.6" x2="10.4" y2="-28.6" stroke-width="0.6"/></g><g transform="rotate(94.0)"><rect x="-10.4" y="-32.2" width="20.8" height="13.6" /><line x1="-10.4" y1="-29.8" x2="10.4" y2="-29.8"/><line x1="-10.4" y1="-28.6" x2="10.4" y2="-28.6" stroke-width="0.6"/></g><g transform="rotate(184.0)"><rect x="-10.4" y="-32.2" width="20.8" height="13.6" /><line x1="-10.4" y1="-29.8" x2="10.4" y2="-29.8"/><line x1="-10.4" y1="-28.6" x2="10.4" y2="-28.6" stroke-width="0.6"/></g><g transform="rotate(274.0)"><rect x="-10.4" y="-32.2" width="20.8" height="13.6" /><line x1="-10.4" y1="-29.8" x2="10.4" y2="-29.8"/><line x1="-10.4" y1="-28.6" x2="10.4" y2="-28.6" stroke-width="0.6"/></g><circle r="20" stroke="#4a4a4a" stroke-width="1"/></g>
<g transform="translate(1103.1,602.7)" fill="#fff" stroke="#4c4c4c" stroke-width="1"><g transform="rotate(4.0)"><rect x="-10.4" y="-32.2" width="20.8" height="13.6" /><line x1="-10.4" y1="-29.8" x2="10.4" y2="-29.8"/><line x1="-10.4" y1="-28.6" x2="10.4" y2="-28.6" stroke-width="0.6"/></g><g transform="rotate(94.0)"><rect x="-10.4" y="-32.2" width="20.8" height="13.6" /><line x1="-10.4" y1="-29.8" x2="10.4" y2="-29.8"/><line x1="-10.4" y1="-28.6" x2="10.4" y2="-28.6" stroke-width="0.6"/></g><g transform="rotate(184.0)"><rect x="-10.4" y="-32.2" width="20.8" height="13.6" /><line x1="-10.4" y1="-29.8" x2="10.4" y2="-29.8"/><line x1="-10.4" y1="-28.6" x2="10.4" y2="-28.6" stroke-width="0.6"/></g><g transform="rotate(274.0)"><rect x="-10.4" y="-32.2" width="20.8" height="13.6" /><line x1="-10.4" y1="-29.8" x2="10.4" y2="-29.8"/><line x1="-10.4" y1="-28.6" x2="10.4" y2="-28.6" stroke-width="0.6"/></g><circle r="20" stroke="#4a4a4a" stroke-width="1"/></g>
<g transform="translate(1101.8,696.7)" fill="#fff" stroke="#4c4c4c" stroke-width="1"><g transform="rotate(4.0)"><rect x="-10.4" y="-32.2" width="20.8" height="13.6" /><line x1="-10.4" y1="-29.8" x2="10.4" y2="-29.8"/><line x1="-10.4" y1="-28.6" x2="10.4" y2="-28.6" stroke-width="0.6"/></g><g transform="rotate(94.0)"><rect x="-10.4" y="-32.2" width="20.8" height="13.6" /><line x1="-10.4" y1="-29.8" x2="10.4" y2="-29.8"/><line x1="-10.4" y1="-28.6" x2="10.4" y2="-28.6" stroke-width="0.6"/></g><g transform="rotate(184.0)"><rect x="-10.4" y="-32.2" width="20.8" height="13.6" /><line x1="-10.4" y1="-29.8" x2="10.4" y2="-29.8"/><line x1="-10.4" y1="-28.6" x2="10.4" y2="-28.6" stroke-width="0.6"/></g><g transform="rotate(274.0)"><rect x="-10.4" y="-32.2" width="20.8" height="13.6" /><line x1="-10.4" y1="-29.8" x2="10.4" y2="-29.8"/><line x1="-10.4" y1="-28.6" x2="10.4" y2="-28.6" stroke-width="0.6"/></g><circle r="20" stroke="#4a4a4a" stroke-width="1"/></g>
<use href="#col" transform="translate(840.7,423.1)"/>
<use href="#col" transform="translate(1196.9,422.3)"/>
<g transform="translate(1138.4,241.2) rotate(39)" fill="none" stroke="#3c3c3c" stroke-width="1"><rect x="-67" y="-37.2" width="134" height="74.4" rx="5.5" fill="#fff" stroke-width="1.2"/><rect x="-65" y="-35.2" width="130" height="70.4" rx="4" stroke-width="0.8"/><rect x="-62.3" y="-32.5" width="124.6" height="65" rx="2" stroke="#8a8a8a" stroke-width="3.4" stroke-dasharray="1.1 1.5"/><rect x="-59" y="-29.2" width="118" height="58.4" stroke="#333" stroke-width="1"/><line x1="-29.7" y1="-29.2" x2="-29.7" y2="29.2"/><line x1="-37" y1="-0.3" x2="32" y2="-2.6" stroke="#222" stroke-width="1.2"/><circle cx="-37" cy="-0.3" r="1.2" fill="#333" stroke="none"/><path d="M-13.8,-23.6 L54.2,-20.3 M-13.8,-23.6 L53.9,-14 M54,-22 L53.8,-12" stroke="#333" stroke-width="0.9"/><path d="M30,-1.5 L43.5,-9 L44,6.5 Z" fill="#4a4a4a" stroke="#2a2a2a" stroke-width="1.6" stroke-linejoin="round"/><circle cx="-15.8" cy="-18.3" r="1.25" fill="#555" stroke="none"/><circle cx="-21" cy="15.1" r="1.25" fill="#555" stroke="none"/><circle cx="16.3" cy="-15.1" r="1.25" fill="#555" stroke="none"/><circle cx="20.8" cy="-14" r="1.25" fill="#555" stroke="none"/><circle cx="7.9" cy="9.9" r="1.25" fill="#555" stroke="none"/><circle cx="17" cy="7.9" r="1.25" fill="#555" stroke="none"/><circle cx="21.2" cy="15.3" r="1.25" fill="#555" stroke="none"/><circle cx="31.3" cy="23.2" r="1.25" fill="#555" stroke="none"/><circle cx="48.1" cy="13.1" r="1.25" fill="#555" stroke="none"/><circle cx="47.1" cy="-4.8" r="1.25" fill="#555" stroke="none"/><circle cx="47.5" cy="0.2" r="1.25" fill="#555" stroke="none"/><circle cx="50.8" cy="2.1" r="1.25" fill="#555" stroke="none"/><circle cx="55.2" cy="-11.3" r="1.25" fill="#555" stroke="none"/><circle cx="-62" cy="-32.4" r="2" fill="#fff" stroke="#333" stroke-width="0.9"/><circle cx="62" cy="-32.4" r="2" fill="#fff" stroke="#333" stroke-width="0.9"/><circle cx="-62" cy="32.4" r="2" fill="#fff" stroke="#333" stroke-width="0.9"/><circle cx="62" cy="32.4" r="2" fill="#fff" stroke="#333" stroke-width="0.9"/><circle cx="0" cy="-33.2" r="2" fill="#fff" stroke="#333" stroke-width="0.9"/><circle cx="0" cy="33.2" r="2" fill="#fff" stroke="#333" stroke-width="0.9"/></g>
<path d="M105.8,1019.0 L78.6,1072.0 L105.9,1061.6 L133.4,1072.4 Z" fill="#fff" stroke="#111" stroke-width="1.4"/>
<path d="M105.8,1019.0 L105.9,1061.6 L133.4,1072.4 Z" fill="#0c0c0c" stroke="#0c0c0c" stroke-width="1.2"/>
<g fill="none" stroke="#1a1a1a" stroke-width="1.25" stroke-linecap="round" stroke-linejoin="round"><path d="M47,0 C19,0 0,20 0,50 C0,80 19,100 47,100 C75,100 94,80 94,50 C94,20 75,0 47,0 Z" transform="translate(401.80,373.60) scale(0.1849,0.2010)" vector-effect="non-scaling-stroke"/><path d="M0,0 L1,66 C1,90 14,100 36,100 C58,100 72,90 72,66 L72,0" transform="translate(423.75,373.60) scale(0.1849,0.2010)" vector-effect="non-scaling-stroke"/><path d="M0,6 L80,0 M39,3 L41,100" transform="translate(440.15,373.60) scale(0.1849,0.2010)" vector-effect="non-scaling-stroke"/><path d="M2,0 L0,100 M2,3 C50,-6 82,10 82,50 C82,88 50,102 0,98" transform="translate(459.50,373.60) scale(0.1849,0.2010)" vector-effect="non-scaling-stroke"/><path d="M47,0 C19,0 0,20 0,50 C0,80 19,100 47,100 C75,100 94,80 94,50 C94,20 75,0 47,0 Z" transform="translate(479.23,373.60) scale(0.1849,0.2010)" vector-effect="non-scaling-stroke"/><path d="M47,0 C19,0 0,20 0,50 C0,80 19,100 47,100 C75,100 94,80 94,50 C94,20 75,0 47,0 Z" transform="translate(501.18,373.60) scale(0.1849,0.2010)" vector-effect="non-scaling-stroke"/><path d="M0,100 L2,0 M2,4 C40,-6 74,-2 74,27 C74,50 40,58 1,57 M24,56 L90,102" transform="translate(523.13,373.60) scale(0.1849,0.2010)" vector-effect="non-scaling-stroke"/><path d="M84,6 C54,-3 6,-1 5,25 C4,42 30,46 50,52 C74,59 90,64 85,80 C78,101 30,104 0,91" transform="translate(554.09,373.60) scale(0.1849,0.2010)" vector-effect="non-scaling-stroke"/><path d="M62,1 L1,3 L0,100 L62,97 M0,52 L50,50" transform="translate(574.93,373.60) scale(0.1849,0.2010)" vector-effect="non-scaling-stroke"/><path d="M0,100 L45,0 L88,100 M15,69 L76,62" transform="translate(588.74,373.60) scale(0.1849,0.2010)" vector-effect="non-scaling-stroke"/><path d="M0,6 L80,0 M39,3 L41,100" transform="translate(607.73,373.60) scale(0.1849,0.2010)" vector-effect="non-scaling-stroke"/><path d="M1,0 L1,100" transform="translate(627.08,373.60) scale(0.1849,0.2010)" vector-effect="non-scaling-stroke"/><path d="M0,100 L2,2 L70,100 L72,-2" transform="translate(632.02,373.60) scale(0.1849,0.2010)" vector-effect="non-scaling-stroke"/><path d="M82,16 C68,2 52,0 44,0 C16,0 0,22 0,50 C0,80 16,100 44,100 C70,100 86,86 85,58 L46,64" transform="translate(649.90,373.60) scale(0.1849,0.2010)" vector-effect="non-scaling-stroke"/></g>
<g fill="none" stroke="#1a1a1a" stroke-width="1.25" stroke-linecap="round" stroke-linejoin="round"><path d="M1,0 L1,100" transform="translate(843.00,260.30) scale(0.1739,0.1890)" vector-effect="non-scaling-stroke"/><path d="M0,100 L2,2 L70,100 L72,-2" transform="translate(848.76,260.30) scale(0.1739,0.1890)" vector-effect="non-scaling-stroke"/><path d="M2,0 L0,100 M2,3 C50,-6 82,10 82,50 C82,88 50,102 0,98" transform="translate(866.70,260.30) scale(0.1739,0.1890)" vector-effect="non-scaling-stroke"/><path d="M47,0 C19,0 0,20 0,50 C0,80 19,100 47,100 C75,100 94,80 94,50 C94,20 75,0 47,0 Z" transform="translate(886.37,260.30) scale(0.1739,0.1890)" vector-effect="non-scaling-stroke"/><path d="M47,0 C19,0 0,20 0,50 C0,80 19,100 47,100 C75,100 94,80 94,50 C94,20 75,0 47,0 Z" transform="translate(908.13,260.30) scale(0.1739,0.1890)" vector-effect="non-scaling-stroke"/><path d="M0,100 L2,0 M2,4 C40,-6 74,-2 74,27 C74,50 40,58 1,57 M24,56 L90,102" transform="translate(929.89,260.30) scale(0.1739,0.1890)" vector-effect="non-scaling-stroke"/><path d="M84,6 C54,-3 6,-1 5,25 C4,42 30,46 50,52 C74,59 90,64 85,80 C78,101 30,104 0,91" transform="translate(962.72,260.30) scale(0.1739,0.1890)" vector-effect="non-scaling-stroke"/><path d="M62,1 L1,3 L0,100 L62,97 M0,52 L50,50" transform="translate(983.43,260.30) scale(0.1739,0.1890)" vector-effect="non-scaling-stroke"/><path d="M0,100 L45,0 L88,100 M15,69 L76,62" transform="translate(997.54,260.30) scale(0.1739,0.1890)" vector-effect="non-scaling-stroke"/><path d="M0,6 L80,0 M39,3 L41,100" transform="translate(1016.52,260.30) scale(0.1739,0.1890)" vector-effect="non-scaling-stroke"/><path d="M1,0 L1,100" transform="translate(1035.85,260.30) scale(0.1739,0.1890)" vector-effect="non-scaling-stroke"/><path d="M0,100 L2,2 L70,100 L72,-2" transform="translate(1041.61,260.30) scale(0.1739,0.1890)" vector-effect="non-scaling-stroke"/><path d="M82,16 C68,2 52,0 44,0 C16,0 0,22 0,50 C0,80 16,100 44,100 C70,100 86,86 85,58 L46,64" transform="translate(1059.55,260.30) scale(0.1739,0.1890)" vector-effect="non-scaling-stroke"/></g>
<g fill="none" stroke="#1a1a1a" stroke-width="1.25" stroke-linecap="round" stroke-linejoin="round"><path d="M62,1 L1,3 L0,100 L62,97 M0,52 L50,50" transform="translate(802.20,82.00) scale(0.1693,0.1840)" vector-effect="non-scaling-stroke"/><path d="M1,0 L0,100 L56,98" transform="translate(818.56,82.00) scale(0.1693,0.1840)" vector-effect="non-scaling-stroke"/><path d="M62,1 L1,3 L0,100 L62,97 M0,52 L50,50" transform="translate(833.56,82.00) scale(0.1693,0.1840)" vector-effect="non-scaling-stroke"/><path d="M0,0 L43,100 L84,-2" transform="translate(848.90,82.00) scale(0.1693,0.1840)" vector-effect="non-scaling-stroke"/><circle cx="870.98" cy="99.10" r="1.35" fill="#1a1a1a" stroke="none"/></g>
<g fill="none" stroke="#1a1a1a" stroke-width="1.25" stroke-linecap="round" stroke-linejoin="round"><path d="M62,1 L1,3 L0,100 L62,97 M0,52 L50,50" transform="translate(214.10,905.20) scale(0.1812,0.1970)" vector-effect="non-scaling-stroke"/><path d="M0,100 L2,2 L70,100 L72,-2" transform="translate(229.77,905.20) scale(0.1812,0.1970)" vector-effect="non-scaling-stroke"/><path d="M0,6 L80,0 M39,3 L41,100" transform="translate(247.26,905.20) scale(0.1812,0.1970)" vector-effect="non-scaling-stroke"/><path d="M62,1 L1,3 L0,100 L62,97 M0,52 L50,50" transform="translate(266.19,905.20) scale(0.1812,0.1970)" vector-effect="non-scaling-stroke"/><path d="M0,100 L2,0 M2,4 C40,-6 74,-2 74,27 C74,50 40,58 1,57 M24,56 L90,102" transform="translate(281.87,905.20) scale(0.1812,0.1970)" vector-effect="non-scaling-stroke"/><path d="M0,6 L80,0 M39,3 L41,100" transform="translate(299.35,905.20) scale(0.1812,0.1970)" vector-effect="non-scaling-stroke"/><path d="M0,100 L45,0 L88,100 M15,69 L76,62" transform="translate(316.48,905.20) scale(0.1812,0.1970)" vector-effect="non-scaling-stroke"/><path d="M1,0 L1,100" transform="translate(337.22,905.20) scale(0.1812,0.1970)" vector-effect="non-scaling-stroke"/><path d="M0,100 L2,2 L70,100 L72,-2" transform="translate(342.02,905.20) scale(0.1812,0.1970)" vector-effect="non-scaling-stroke"/><path d="M0,100 L3,0 L48,98 L93,0 L96,100" transform="translate(359.51,905.20) scale(0.1812,0.1970)" vector-effect="non-scaling-stroke"/><path d="M62,1 L1,3 L0,100 L62,97 M0,52 L50,50" transform="translate(381.34,905.20) scale(0.1812,0.1970)" vector-effect="non-scaling-stroke"/><path d="M0,100 L2,2 L70,100 L72,-2" transform="translate(397.02,905.20) scale(0.1812,0.1970)" vector-effect="non-scaling-stroke"/><path d="M0,6 L80,0 M39,3 L41,100" transform="translate(414.50,905.20) scale(0.1812,0.1970)" vector-effect="non-scaling-stroke"/></g>
<g fill="none" stroke="#1a1a1a" stroke-width="1.25" stroke-linecap="round" stroke-linejoin="round"><path d="M84,6 C54,-3 6,-1 5,25 C4,42 30,46 50,52 C74,59 90,64 85,80 C78,101 30,104 0,91" transform="translate(278.30,941.60) scale(0.1739,0.1890)" vector-effect="non-scaling-stroke"/><path d="M0,6 L80,0 M39,3 L41,100" transform="translate(297.95,941.60) scale(0.1739,0.1890)" vector-effect="non-scaling-stroke"/><path d="M0,100 L45,0 L88,100 M15,69 L76,62" transform="translate(314.47,941.60) scale(0.1739,0.1890)" vector-effect="non-scaling-stroke"/><path d="M82,16 C68,2 52,0 44,0 C16,0 0,22 0,50 C0,80 16,100 44,100 C70,100 86,86 85,58 L46,64" transform="translate(334.12,941.60) scale(0.1739,0.1890)" vector-effect="non-scaling-stroke"/><path d="M62,1 L1,3 L0,100 L62,97 M0,52 L50,50" transform="translate(353.42,941.60) scale(0.1739,0.1890)" vector-effect="non-scaling-stroke"/></g>
<g fill="none" stroke="#1a1a1a" stroke-width="1.25" stroke-linecap="round" stroke-linejoin="round"><path d="M84,6 C54,-3 6,-1 5,25 C4,42 30,46 50,52 C74,59 90,64 85,80 C78,101 30,104 0,91" transform="translate(1222.80,756.00) scale(0.1785,0.1940)" vector-effect="non-scaling-stroke"/><path d="M0,6 L80,0 M39,3 L41,100" transform="translate(1242.86,756.00) scale(0.1785,0.1940)" vector-effect="non-scaling-stroke"/><path d="M0,100 L45,0 L88,100 M15,69 L76,62" transform="translate(1259.72,756.00) scale(0.1785,0.1940)" vector-effect="non-scaling-stroke"/><path d="M1,0 L1,100" transform="translate(1280.14,756.00) scale(0.1785,0.1940)" vector-effect="non-scaling-stroke"/><path d="M0,100 L2,0 M2,4 C40,-6 74,-2 74,27 C74,50 40,58 1,57 M24,56 L90,102" transform="translate(1284.85,756.00) scale(0.1785,0.1940)" vector-effect="non-scaling-stroke"/></g>
<g fill="none" stroke="#1a1a1a" stroke-width="1.25" stroke-linecap="round" stroke-linejoin="round"><path d="M0,6 L80,0 M39,3 L41,100" transform="translate(1214.10,792.60) scale(0.1730,0.1880)" vector-effect="non-scaling-stroke"/><path d="M47,0 C19,0 0,20 0,50 C0,80 19,100 47,100 C75,100 94,80 94,50 C94,20 75,0 47,0 Z" transform="translate(1232.15,792.60) scale(0.1730,0.1880)" vector-effect="non-scaling-stroke"/><path d="M0,0 L31,100 L59,20 L89,100 L118,-2" transform="translate(1253.13,792.60) scale(0.1730,0.1880)" vector-effect="non-scaling-stroke"/><path d="M62,1 L1,3 L0,100 L62,97 M0,52 L50,50" transform="translate(1278.27,792.60) scale(0.1730,0.1880)" vector-effect="non-scaling-stroke"/><path d="M0,100 L2,0 M2,4 C40,-6 74,-2 74,27 C74,50 40,58 1,57 M24,56 L90,102" transform="translate(1293.73,792.60) scale(0.1730,0.1880)" vector-effect="non-scaling-stroke"/></g>
<g fill="none" stroke="#1a1a1a" stroke-width="1.25" stroke-linecap="round" stroke-linejoin="round"><path d="M0,100 L2,2 L70,100 L72,-2" transform="translate(62.20,1082.30) scale(0.1638,0.1780)" vector-effect="non-scaling-stroke"/><path d="M47,0 C19,0 0,20 0,50 C0,80 19,100 47,100 C75,100 94,80 94,50 C94,20 75,0 47,0 Z" transform="translate(79.94,1082.30) scale(0.1638,0.1780)" vector-effect="non-scaling-stroke"/><path d="M0,100 L2,0 M2,4 C40,-6 74,-2 74,27 C74,50 40,58 1,57 M24,56 L90,102" transform="translate(101.27,1082.30) scale(0.1638,0.1780)" vector-effect="non-scaling-stroke"/><path d="M0,6 L80,0 M39,3 L41,100" transform="translate(119.01,1082.30) scale(0.1638,0.1780)" vector-effect="non-scaling-stroke"/><path d="M1,0 L0,100 M76,0 L75,100 M0,54 L76,47" transform="translate(138.05,1082.30) scale(0.1638,0.1780)" vector-effect="non-scaling-stroke"/></g>
<path d="M72.20,449.20 V439.70 H74.51 C78.35,439.70 79.41,442.36 79.41,444.45 C79.41,446.54 78.35,449.20 74.51,449.20 Z M81.84,449.20 V439.70 L88.71,449.20 V439.70" fill="none" stroke="#333" stroke-width="1.35" stroke-linejoin="miter"/>
<path d="M1184.80,734.00 V724.06 H1187.25 C1191.26,724.06 1192.37,726.85 1192.37,729.03 C1192.37,731.22 1191.26,734.00 1187.25,734.00 Z M1194.88,734.00 V724.06 L1202.06,734.00 V724.06" fill="none" stroke="#333" stroke-width="1.35" stroke-linejoin="miter"/>
<path d="M993.40,809.00 V799.35 H995.75 C999.65,799.35 1000.73,802.05 1000.73,804.18 C1000.73,806.30 999.65,809.00 995.75,809.00 Z M1003.19,809.00 V799.35 L1010.16,809.00 V799.35" fill="none" stroke="#333" stroke-width="1.35" stroke-linejoin="miter"/>
</svg></body></html>
